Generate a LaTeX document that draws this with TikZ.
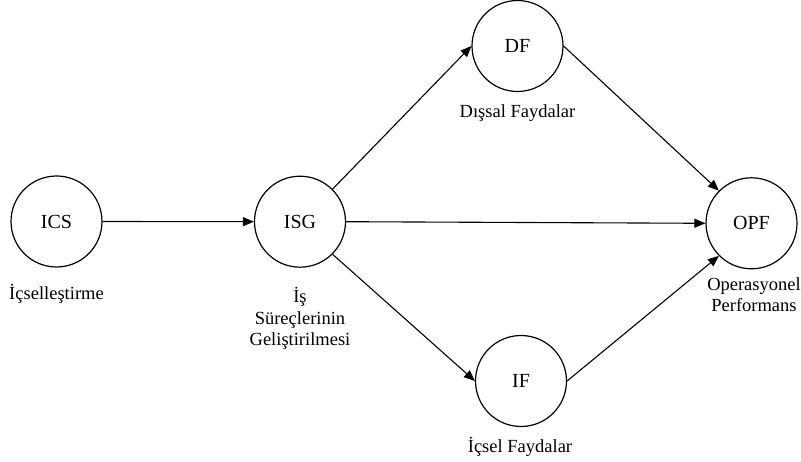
\documentclass[tikz,border=0pt]{standalone}
\usepackage{fontspec}
\setmainfont{Liberation Serif}
\usetikzlibrary{arrows.meta}
\begin{document}
\begin{tikzpicture}[x=1pt,y=-1pt,
  circ/.style={circle,draw,line width=1.2pt,minimum size=91pt,inner sep=0pt,font=\fontsize{20}{24}\selectfont},
  lbl/.style={anchor=base,align=center,font=\fontsize{18.5}{21.5}\selectfont},
  conn/.style={line width=1.1pt,-{Triangle[length=11pt,width=9pt]}}]
\useasboundingbox (0,0) rectangle (801,462);
\node[circ] (ics) at (56.5,221.5) {ICS};
\node[circ] (isg) at (300,221.7) {ISG};
\node[circ] (df) at (517.5,46) {DF};
\node[circ] (if) at (521,381) {IF};
\node[circ] (opf) at (751.5,223.3) {OPF};
\node[lbl] (icsl) at (56.5,300) {İçselleştirme};
\node[lbl,anchor=north] (isgl) at (300,284) {İş\\Süreçlerinin\\Geliştirilmesi};
\node[lbl] (dfl) at (517.5,118) {Dışsal Faydalar};
\node[lbl] (ifl) at (520,453) {İçsel Faydalar};
\node[lbl,anchor=north] (opfl) at (754,274) {Operasyonel\\Performans};
\draw[conn] (ics.east) -- (isg.west);
\draw[conn] (isg.north east) -- (df.west);
\draw[conn] (isg.east) -- (opf.west);
\draw[conn] (isg.south east) -- (if.west);
\draw[conn] (df.east) -- (opf.north west);
\draw[conn] (if.east) -- (opf.south west);
\end{tikzpicture}
\end{document}
